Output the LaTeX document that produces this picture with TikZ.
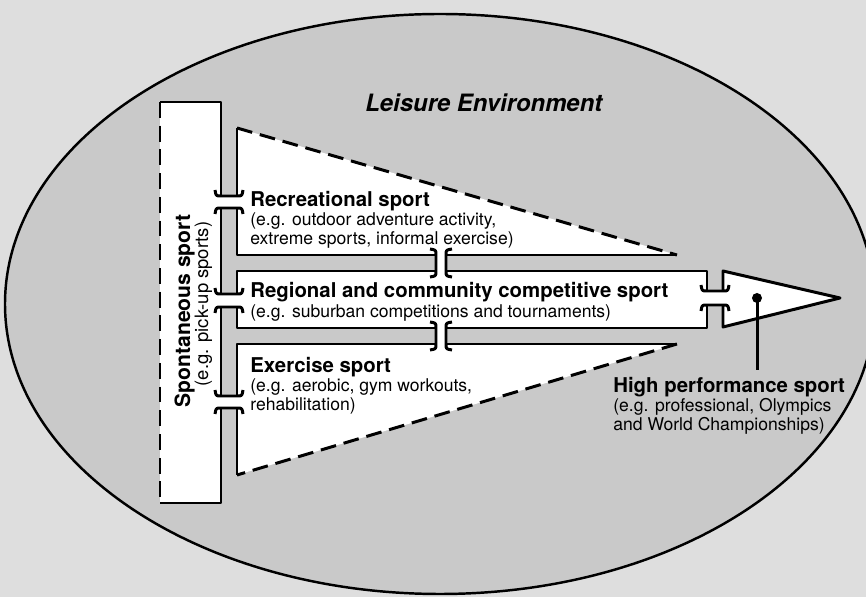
\documentclass[tikz,border=0pt]{standalone}
\usepackage{fontspec}
\setmainfont{TeX Gyre Heros}
\usetikzlibrary{positioning}
\definecolor{pagegray}{gray}{0.87}
\definecolor{envgray}{gray}{0.79}
\tikzset{
	wall/.style={line width=1.7pt, line join=round},
	dashwall/.style={wall, dash pattern=on 9pt off 4.5pt},
	title/.style={font=\fontsize{11.6}{13}\selectfont\bfseries, inner sep=0pt},
	note/.style={font=\fontsize{10}{10.8}\selectfont, inner sep=0pt, align=left},
}
\begin{document}
\begin{tikzpicture}[x=0.02cm,y=-0.02cm]
		\useasboundingbox (0,0) rectangle (866,597);
		\fill[pagegray] (0,0) rectangle (866,597);
		\filldraw[fill=envgray,line width=1.4pt] (440,304) ellipse [x radius=435, y radius=290];
		% white areas
		\fill[white] (160,102) rectangle (221,503);
		\fill[white] (237,128) -- (677,255) -- (237,255) -- cycle;
		\fill[white] (237,271) rectangle (707,328);
		\fill[white] (237,344) -- (677,344) -- (237,475) -- cycle;
		\fill[white] (723,271) -- (840,298) -- (723,327) -- cycle;
		% bridges over the vertical channel
		\foreach \ya/\yb in {196/208,294/307,396/408}{
			\fill[white] (221,\ya) rectangle (237,\yb);
			\draw[wall] (215,\ya-6) .. controls (216,\ya) .. (221,\ya) -- (237,\ya) .. controls (242,\ya) .. (243,\ya-6);
			\draw[wall] (215,\yb+6) .. controls (216,\yb) .. (221,\yb) -- (237,\yb) .. controls (242,\yb) .. (243,\yb+6);
		}
		% bridges over the horizontal channels
		\foreach \ya/\yb in {255/271,328/344}{
			\fill[white] (436,\ya) rectangle (446,\yb);
			\draw[wall] (430,\ya-6) .. controls (436,\ya-5) .. (436,\ya) -- (436,\yb) .. controls (436,\yb+5) .. (430,\yb+6);
			\draw[wall] (452,\ya-6) .. controls (446,\ya-5) .. (446,\ya) -- (446,\yb) .. controls (446,\yb+5) .. (452,\yb+6);
		}
		\fill[white] (707,291) rectangle (723,305);
		\draw[wall] (701,285) .. controls (702,291) .. (707,291) -- (723,291) .. controls (728,291) .. (729,285);
		\draw[wall] (701,311) .. controls (702,305) .. (707,305) -- (723,305) .. controls (728,305) .. (729,311);
		% spontaneous sport
		\draw[dashwall] (160,102) -- (160,503);
		\draw[wall] (160,503) -- (221,503) -- (221,408) (221,396) -- (221,307) (221,294) -- (221,208) (221,196) -- (221,102) -- (160,102);
		% recreational sport
		\draw[wall] (237,196) -- (237,128) (237,208) -- (237,255) -- (436,255) (446,255) -- (677,255);
		\draw[dashwall] (237,128) -- (677,255);
		% regional and community sport
		\draw[wall] (237,294) -- (237,271) -- (436,271) (446,271) -- (707,271) -- (707,291) (707,305) -- (707,328) -- (446,328) (436,328) -- (237,328) -- (237,307);
		% exercise sport
		\draw[wall] (237,408) -- (237,475) (237,396) -- (237,344) -- (436,344) (446,344) -- (677,344);
		\draw[dashwall] (677,344) -- (237,475);
		% high performance sport
		\draw[wall] (723,291) -- (723,271) -- (840,298) -- (723,327) -- (723,305);
		% labels
		\node[font=\fontsize{13.6}{16}\selectfont\bfseries\itshape, anchor=base west, inner sep=0pt] (env) at (365,112) {Leisure Environment};
		\node[title, anchor=base west] (rec) at (250,207) {Recreational sport};
		\node[note, anchor=north west] (recnote) at (250,212) {(e.g. outdoor adventure activity,\\extreme sports, informal exercise)};
		\node[title, anchor=base west] (reg) at (250,298) {Regional and community competitive sport};
		\node[note, anchor=north west] (regnote) at (250,304) {(e.g. suburban competitions and tournaments)};
		\node[title, anchor=base west] (exe) at (250,373) {Exercise sport};
		\node[note, anchor=north west] (exenote) at (250,378) {(e.g. aerobic, gym workouts,\\rehabilitation)};
		\node[title, anchor=base west] (hp) at (613,393) {High performance sport};
		\node[note, anchor=north west] (hpnote) at (613,398) {(e.g. professional, Olympics\\and World Championships)};
		\node[title, font=\fontsize{12}{14}\selectfont\bfseries, rotate=90, anchor=base] (spo) at (190,311) {Spontaneous sport};
		\node[note, font=\fontsize{10.5}{12}\selectfont, rotate=90, anchor=base] (sponote) at (208,304) {(e.g. pick-up sports)};
		% pin
		\coordinate (pin) at (757,298);
		\fill (pin) circle [radius=5];
		\draw[wall] (pin) -- ([yshift=4.5pt]hp.north -| pin);
	\end{tikzpicture}
\end{document}
